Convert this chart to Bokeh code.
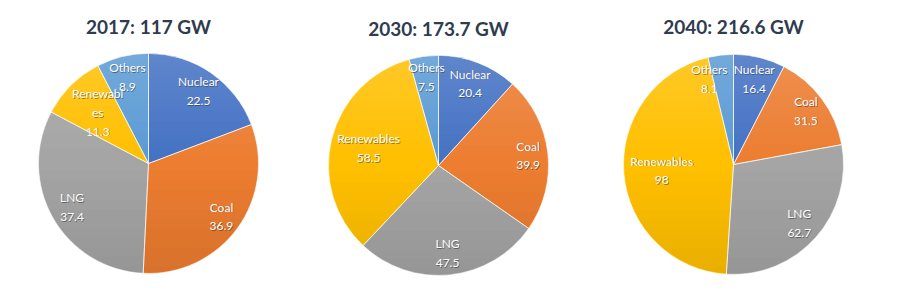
import math
from bokeh.plotting import figure
from bokeh.models import ColumnDataSource, Range1d
from bokeh.core.properties import value
from bokeh.embed import file_html
from bokeh.resources import INLINE

# ---- data ----
years = ["2017", "2030", "2040"]
totals = ["117", "173.7", "216.6"]
sources = ["Nuclear", "Coal", "LNG", "Renewables", "Others"]
values_2017 = [22.5, 36.9, 37.4, 11.3, 8.9]
values_2030 = [20.4, 39.9, 47.5, 58.5, 7.5]
values_2040 = [16.4, 31.5, 62.7, 98.0, 8.1]
series = [values_2017, values_2030, values_2040]
label_names_2017 = ["Nuclear", "Coal", "LNG", "Renewabl\nes", "Others"]
label_names = [label_names_2017, sources, sources]

# ---- style ----
colors = ["#4472C4", "#ED7D31", "#A5A5A5", "#FFC000", "#5B9BD5"]
W, H = 916, 290
centers_x = [148, 438, 733]
centers_y_px = [163, 165, 164]
title_y_px = [26, 28, 26]
R = 110
label_frac = [0.80, 0.82, 0.80, 0.655, 0.81]
label_angle_shift = [[0, 0, 0, 0, 0], [0, 0, 0, 0, 0], [0, 0, 0, 0, -9]]

p = figure(width=W, height=H, output_backend="svg", toolbar_location=None,
           x_range=Range1d(0, W), y_range=Range1d(0, H),
           x_axis_location=None, y_axis_location=None, min_border=0)
p.grid.visible = False
p.outline_line_color = None
p.background_fill_color = "white"
p.border_fill_color = "white"

for i, vals in enumerate(series):
    cx = centers_x[i]
    cy = H - centers_y_px[i]
    total = sum(vals)
    starts, ends, lx, ly, ltxt = [], [], [], [], []
    acc = 0.0
    for j, v in enumerate(vals):
        a1 = acc / total * 2 * math.pi
        acc += v
        a2 = acc / total * 2 * math.pi
        # clockwise from 12 o'clock -> standard angles
        starts.append(math.pi / 2 - a2)
        ends.append(math.pi / 2 - a1)
        mid = (a1 + a2) / 2 + math.radians(label_angle_shift[i][j])
        r = R * label_frac[j]
        lx.append(cx + r * math.sin(mid))
        ly.append(cy + r * math.cos(mid))
        v_str = ("%g" % v)
        ltxt.append(label_names[i][j] + "\n" + v_str)
    src = ColumnDataSource(dict(x=[cx] * len(vals), y=[cy] * len(vals),
                                start=starts, end=ends, color=colors))
    p.wedge(x="x", y="y", radius=R, start_angle="start", end_angle="end",
            fill_color="color", line_color=None, source=src)

    # vertical shading overlay (light top, darker bottom), clipped to the circle
    ys, lefts, rights, fcol, falpha = [], [], [], [], []
    n = 2 * R
    for k in range(n):
        y0 = cy - R + k
        y1 = y0 + 1
        d = max(abs(y0 - cy), abs(y1 - cy))
        if d >= R:
            continue
        hw = math.sqrt(R * R - d * d) - 0.3
        t = (y0 + 0.5 - cy) / R  # -1 bottom .. +1 top
        ys.append(y0 + 0.5)
        lefts.append(cx - hw)
        rights.append(cx + hw)
        if t > 0:
            fcol.append("white")
            falpha.append(0.16 * t)
        else:
            fcol.append("black")
            falpha.append(0.09 * (-t))
    osrc = ColumnDataSource(dict(y=ys, left=lefts, right=rights, c=fcol, a=falpha))
    p.hbar(y="y", left="left", right="right", height=1.02, fill_color="c",
           fill_alpha="a", line_color=None, source=osrc)

    # thin white separators
    p.wedge(x="x", y="y", radius=R, start_angle="start", end_angle="end",
            fill_color=None, line_color="white", line_width=0.8, line_alpha=0.7,
            source=src)

    lsrc = ColumnDataSource(dict(x=lx, y=ly, t=ltxt,
                                 xs=[v + 0.7 for v in lx], ys=[v - 0.7 for v in ly]))
    p.text(x="xs", y="ys", text="t", source=lsrc, text_color="#303030", text_alpha=0.55,
           text_font=value("Lato"), text_font_size="12px",
           text_align="center", text_baseline="middle", text_line_height=1.25)
    p.text(x="x", y="y", text="t", source=lsrc, text_color="white",
           text_font=value("Lato"), text_font_size="12px",
           text_align="center", text_baseline="middle", text_line_height=1.25)
    p.text(x=[cx], y=[H - title_y_px[i]], text=["%s: %s GW" % (years[i], totals[i])],
           text_color="#2F3B4E", text_font=value("Lato"), text_font_style="bold",
           text_font_size="19px", text_align="center", text_baseline="middle")

open("out.html", "w").write(file_html(p, INLINE))
